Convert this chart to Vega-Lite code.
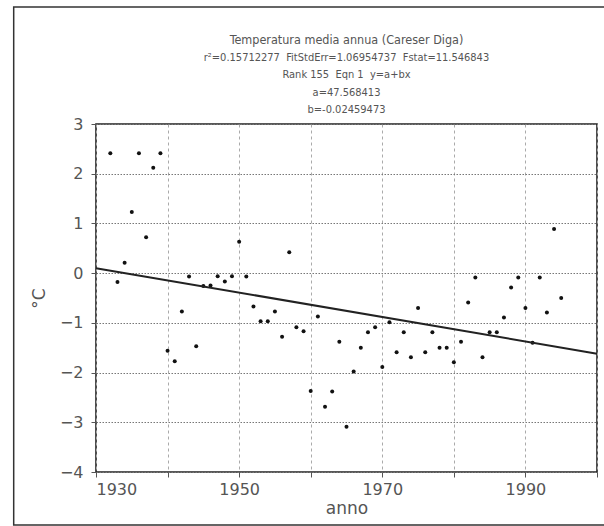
{
  "$schema": "https://vega.github.io/schema/vega-lite/v6.json",
  "autosize": "none",
  "width": 501,
  "height": 348,
  "padding": {"left": 96, "top": 124, "right": 7, "bottom": 54},
  "background": "white",
  "datasets": {
    "obs": [
      {"year": 1932, "t": 2.41}, {"year": 1933, "t": -0.18}, {"year": 1934, "t": 0.21},
      {"year": 1935, "t": 1.23}, {"year": 1936, "t": 2.41}, {"year": 1937, "t": 0.72},
      {"year": 1938, "t": 2.12}, {"year": 1939, "t": 2.41}, {"year": 1940, "t": -1.56},
      {"year": 1941, "t": -1.77}, {"year": 1942, "t": -0.77}, {"year": 1943, "t": -0.07},
      {"year": 1944, "t": -1.47}, {"year": 1945, "t": -0.26}, {"year": 1946, "t": -0.25},
      {"year": 1947, "t": -0.06}, {"year": 1948, "t": -0.17}, {"year": 1949, "t": -0.06},
      {"year": 1950, "t": 0.63}, {"year": 1951, "t": -0.07}, {"year": 1952, "t": -0.67},
      {"year": 1953, "t": -0.97}, {"year": 1954, "t": -0.97}, {"year": 1955, "t": -0.77},
      {"year": 1956, "t": -1.28}, {"year": 1957, "t": 0.42}, {"year": 1958, "t": -1.09},
      {"year": 1959, "t": -1.17}, {"year": 1960, "t": -2.37}, {"year": 1961, "t": -0.87},
      {"year": 1962, "t": -2.69}, {"year": 1963, "t": -2.38}, {"year": 1964, "t": -1.38},
      {"year": 1965, "t": -3.09}, {"year": 1966, "t": -1.98}, {"year": 1967, "t": -1.5},
      {"year": 1968, "t": -1.19}, {"year": 1969, "t": -1.09}, {"year": 1970, "t": -1.89},
      {"year": 1971, "t": -0.99}, {"year": 1972, "t": -1.59}, {"year": 1973, "t": -1.19},
      {"year": 1974, "t": -1.69}, {"year": 1975, "t": -0.7}, {"year": 1976, "t": -1.59},
      {"year": 1977, "t": -1.19}, {"year": 1978, "t": -1.5}, {"year": 1979, "t": -1.5},
      {"year": 1980, "t": -1.79}, {"year": 1981, "t": -1.38}, {"year": 1982, "t": -0.59},
      {"year": 1983, "t": -0.09}, {"year": 1984, "t": -1.69}, {"year": 1985, "t": -1.19},
      {"year": 1986, "t": -1.19}, {"year": 1987, "t": -0.89}, {"year": 1988, "t": -0.29},
      {"year": 1989, "t": -0.09}, {"year": 1990, "t": -0.7}, {"year": 1991, "t": -1.4},
      {"year": 1992, "t": -0.09}, {"year": 1993, "t": -0.79}, {"year": 1994, "t": 0.89},
      {"year": 1995, "t": -0.5}
    ],
    "fit": [
      {"year": 1930, "t": 0.1006},
      {"year": 2000, "t": -1.6206}
    ]
  },
  "title": {
    "text": "Temperatura media annua (Careser Diga)",
    "subtitle": [
      "r²=0.15712277 \u00a0FitStdErr=1.06954737 \u00a0Fstat=11.546843",
      "Rank 155 \u00a0Eqn 1 \u00a0y=a+bx",
      "a=47.568413",
      "b=-0.02459473"
    ],
    "anchor": "middle",
    "frame": "group",
    "font": "'DejaVu Sans Condensed', 'DejaVu Sans'",
    "fontSize": 12.5,
    "fontWeight": "normal",
    "color": "#555555",
    "subtitleFont": "'DejaVu Sans Condensed', 'Liberation Sans Narrow', 'DejaVu Sans'",
    "subtitleFontSize": 11,
    "subtitleColor": "#555555",
    "subtitleLineHeight": 17.5,
    "subtitlePadding": 5,
    "offset": -109
  },
  "config": {
    "view": {"stroke": "#222222", "strokeWidth": 1.6},
    "axis": {
      "labelFont": "DejaVu Sans",
      "titleFont": "DejaVu Sans",
      "labelColor": "#555555",
      "titleColor": "#555555",
      "labelFontSize": 16,
      "titleFontSize": 17,
      "labelFontWeight": "normal",
      "titleFontWeight": "normal",
      "domain": false,
      "tickColor": "#555555",
      "tickSize": 5,
      "gridWidth": 1
    }
  },
  "layer": [
    {
      "data": {"values": [{}]},
      "mark": {"type": "rect", "filled": false, "stroke": "#333333", "strokeWidth": 1.5, "clip": false},
      "encoding": {
        "x": {"datum": 1918.5, "type": "quantitative"},
        "x2": {"datum": 2003},
        "y": {"datum": 5.354, "type": "quantitative"},
        "y2": {"datum": -5.067}
      }
    },
    {
      "data": {"name": "obs"},
      "mark": {"type": "circle", "color": "#111111", "size": 16, "opacity": 1},
      "encoding": {
        "x": {
          "field": "year", "type": "quantitative",
          "scale": {"domain": [1930, 2000], "nice": false, "zero": false},
          "axis": {
            "title": "anno",
            "values": [1930, 1940, 1950, 1960, 1970, 1980, 1990, 2000],
            "format": "d",
            "labelExpr": "datum.value % 20 == 10 ? datum.label : ''",
            "labelPadding": 4,
            "titlePadding": 3,
            "grid": true,
            "gridColor": "#aaaaaa",
            "gridDash": [3, 3]
          }
        },
        "y": {
          "field": "t", "type": "quantitative",
          "scale": {"domain": [-4, 3], "nice": false, "zero": false},
          "axis": {
            "title": "°C",
            "values": [-4, -3, -2, -1, 0, 1, 2, 3],
            "labelPadding": 8,
            "titlePadding": 11,
            "grid": true,
            "gridColor": "#777777",
            "gridDash": [1.5, 1.5]
          }
        }
      }
    },
    {
      "data": {"name": "fit"},
      "mark": {"type": "line", "color": "#222222", "strokeWidth": 2},
      "encoding": {
        "x": {"field": "year", "type": "quantitative"},
        "y": {"field": "t", "type": "quantitative"}
      }
    }
  ]
}
